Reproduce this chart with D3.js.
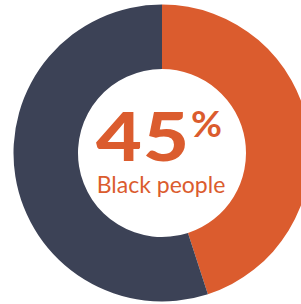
<!DOCTYPE html>
<html><head><meta charset="utf-8">
<script src="https://cdn.jsdelivr.net/npm/d3@7"></script>
<style>html,body{margin:0;padding:0;background:#fff;}svg{display:block;}</style>
</head><body>
<script>
const categories = ["Black people", "Other"];
const values = [45, 55];
const colors = ["#DB5C2E", "#3C4256"];
const bigLabel = "45";
const pctSign = "%";
const subLabel = "Black people";

const W = 301, H = 304;
const cx = 162, cy = 153, R = 148.5, r = 84;
const svg = d3.select("body").append("svg").attr("width", W).attr("height", H);
const g = svg.append("g").attr("transform", `translate(${cx},${cy})`);
const pie = d3.pie().sort(null).value(d => d);
const arc = d3.arc().innerRadius(r).outerRadius(R);
const color = d3.scaleOrdinal().domain(categories).range(colors);
g.selectAll("path").data(pie(values)).join("path")
  .attr("d", arc).attr("fill", (d, i) => color(categories[i]));

g.append("text").attr("transform", "translate(-66,8) scale(1.2,1)")
  .attr("fill", colors[0]).attr("font-family", "Lato").attr("font-weight", 900)
  .attr("font-size", 66).attr("letter-spacing", 1).text(bigLabel);
g.append("text").attr("transform", "translate(29,-16) scale(1.05,1)")
  .attr("fill", colors[0]).attr("font-family", "Lato").attr("font-weight", 700)
  .attr("font-size", 36).text(pctSign);

g.append("text").attr("text-anchor", "middle").attr("x", -1).attr("y", 40)
  .attr("fill", colors[0]).attr("font-family", "Lato").attr("font-weight", 400)
  .attr("font-size", 23).text(subLabel);
</script>
</body></html>
